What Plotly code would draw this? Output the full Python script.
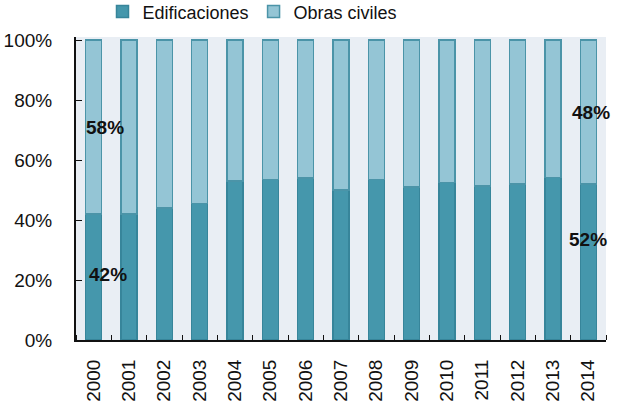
import plotly.graph_objects as go

years = list(range(2000, 2015))
edificaciones = [42, 42, 44, 45.5, 53, 53.5, 54, 50, 53.5, 51, 52.5, 51.3, 52, 54.2, 52]
obras_civiles = [100 - v for v in edificaciones]

label_text = ["58%", "42%", "48%", "52%"]
label_x = [years[0], years[0], years[-1], years[-1]]
label_y = [70.8, 21.8, 75.8, 33.5]
label_shift = [11, 14, 3, 0]

fig = go.Figure()
fig.add_trace(go.Bar(
    x=years, y=edificaciones, name="Edificaciones",
    marker=dict(color="#4597AC", line=dict(color="#37859A", width=1.5)),
))
fig.add_trace(go.Bar(
    x=years, y=obras_civiles, name="Obras civiles",
    marker=dict(color="#94C5D5", line=dict(color="#4B94A8", width=1.5)),
))

for t, x, y, s in zip(label_text, label_x, label_y, label_shift):
    fig.add_annotation(x=x, y=y, text=f"<b>{t}</b>", showarrow=False, xshift=s,
                       font=dict(family="Liberation Sans", size=19, color="#111"))

fig.update_layout(
    width=631, height=410,
    barmode="stack", bargap=0.55,
    margin=dict(l=76, r=25, t=37, b=70, autoexpand=False),
    paper_bgcolor="white", plot_bgcolor="#E9EEF4",
    font=dict(family="Liberation Sans", size=19, color="#111"),
    showlegend=True,
    legend=dict(orientation="h", x=0.05, xanchor="left", y=1.022, yanchor="bottom",
                font=dict(size=18, color="#111"), itemwidth=30, traceorder="normal",
                tracegroupgap=0),
)
fig.update_xaxes(range=[years[0] - 0.5, years[-1] + 0.5], tickmode="array",
                 tickvals=years, ticktext=[str(y) for y in years],
                 tickangle=-90, ticks="", showline=True, ticklabelstandoff=10,
                 linecolor="#111", linewidth=2, showgrid=False, zeroline=False,
                 minor=dict(ticks="inside", ticklen=5, tickcolor="#111",
                            tick0=years[0] - 0.5, dtick=1, showgrid=False))
fig.update_yaxes(range=[0, 101], tickvals=[0, 20, 40, 60, 80, 100],
                 ticktext=["0%", "20%", "40%", "60%", "80%", "100%"],
                 ticks="inside", ticklen=6, tickcolor="#111", showline=True,
                 ticklabelstandoff=18,
                 linecolor="#111", linewidth=2, showgrid=False, zeroline=False)

fig.write_html("out.html")
